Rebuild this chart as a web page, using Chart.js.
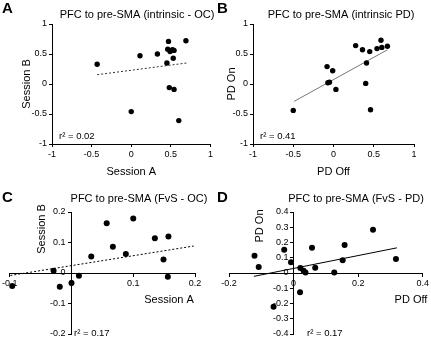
<!DOCTYPE html>
<html>
<head>
<meta charset="utf-8">
<script src="https://cdn.jsdelivr.net/npm/chart.js@4.4.0/dist/chart.umd.min.js"></script>
<style>
  html, body { margin: 0; padding: 0; background: #fff; }
  #fig { position: relative; width: 431px; height: 338px; overflow: hidden; }
  #fig canvas { position: absolute; }
</style>
</head>
<body>
<div id="fig">
  <canvas id="cA" width="215" height="183" style="left:0;top:0"></canvas>
  <canvas id="cB" width="216" height="183" style="left:215px;top:0"></canvas>
  <canvas id="cC" width="215" height="158" style="left:0;top:180px"></canvas>
  <canvas id="cD" width="216" height="158" style="left:215px;top:180px"></canvas>
</div>
<script>
// --- data ---
// A: intrinsic, older controls (session A vs session B)
const aSessionA = [-0.43, 0.11, 0.33, 0.47, 0.46, 0.49, 0.52, 0.54, 0.53, 0.45, 0.69, 0.0, 0.48, 0.54, 0.60];
const aSessionB = [0.33, 0.47, 0.50, 0.71, 0.58, 0.54, 0.57, 0.56, 0.43, 0.35, 0.72, -0.46, -0.06, -0.09, -0.61];
const aTrend = [{ x: -0.43, y: 0.155 }, { x: 0.70, y: 0.35 }];

// B: intrinsic, PD (off vs on)
const bOff = [-0.50, -0.08, -0.01, -0.07, -0.05, 0.03, 0.275, 0.36, 0.45, 0.41, 0.40, 0.46, 0.54, 0.59, 0.60, 0.67];
const bOn = [-0.44, 0.29, 0.22, 0.02, 0.03, -0.09, 0.64, 0.57, 0.54, 0.35, 0.01, -0.43, 0.59, 0.73, 0.61, 0.63];
const bTrend = [{ x: -0.49, y: -0.29 }, { x: 0.67, y: 0.57 }];

// C: FvS, older controls
const cSessionA = [-0.096, -0.029, -0.019, 0.0, 0.012, 0.032, 0.057, 0.067, 0.088, 0.100, 0.135, 0.157, 0.149, 0.156];
const cSessionB = [-0.043, 0.007, -0.045, -0.033, -0.009, 0.054, 0.163, 0.086, 0.062, 0.179, 0.114, 0.120, 0.044, -0.012];
const cTrend = [{ x: -0.099, y: -0.008 }, { x: 0.198, y: 0.0885 }];

// D: FvS, PD
const dOff = [-0.121, -0.108, -0.029, -0.008, 0.021, 0.031, 0.037, 0.057, 0.067, 0.126, 0.152, 0.158, 0.246, 0.317, 0.020, -0.062];
const dOn = [0.113, 0.039, 0.152, 0.070, 0.033, 0.015, 0.004, 0.165, 0.035, 0.004, 0.083, 0.183, 0.283, 0.091, -0.126, -0.222];
const dTrend = [{ x: -0.123, y: -0.022 }, { x: 0.32, y: 0.165 }];

const r2 = { A: "0.02", B: "0.41", C: "0.17", D: "0.17" };

Chart.defaults.font.family = "'Liberation Sans', Arial, sans-serif";
Chart.defaults.color = "#000";

const toPoints = (xs, ys) => xs.map((x, i) => ({ x: x, y: ys[i] }));
const tickFmt = (v) => String(Math.round(v * 10) / 10);

const F_TITLE = "11px 'Liberation Sans', Arial, sans-serif";
const F_LETTER = "bold 15px 'Liberation Sans', Arial, sans-serif";
const F_R2 = "9.5px 'Liberation Sans', Arial, sans-serif";
const F_AXIS = "11px 'Liberation Sans', Arial, sans-serif";
const F_TICK = "9px 'Liberation Sans', Arial, sans-serif";

// free text (panel letter, title, r2, centred-axis titles)
// plus y tick labels for the axes that cross at the origin
const panelText = {
  id: "panelText",
  afterDraw(chart, args, opts) {
    const ctx = chart.ctx;
    (opts.items || []).forEach((t) => {
      ctx.save();
      ctx.font = t.font;
      ctx.fillStyle = "#000";
      ctx.textAlign = t.align || "left";
      ctx.textBaseline = t.baseline || "alphabetic";
      ctx.translate(t.x, t.y);
      if (t.rotate) ctx.rotate(t.rotate);
      ctx.fillText(t.text, 0, 0);
      ctx.restore();
    });
    if (opts.yTickGap) {
      const ys = chart.scales.y;
      const x0 = chart.scales.x.getPixelForValue(0) - opts.yTickGap;
      ctx.save();
      ctx.font = F_TICK;
      ctx.fillStyle = "#000";
      ctx.textAlign = "right";
      ctx.textBaseline = "middle";
      ys.ticks.forEach((t) => {
        ctx.fillText(tickFmt(t.value), x0, ys.getPixelForValue(t.value));
      });
      ctx.restore();
    }
  },
};

function dataSets(pts, trend, radius, lineColor, dash) {
  return [
    {
      data: pts,
      pointRadius: radius,
      pointHoverRadius: radius,
      pointBackgroundColor: "#000",
      pointBorderWidth: 0,
      clip: false,
    },
    {
      data: trend,
      showLine: true,
      pointRadius: 0,
      borderColor: lineColor,
      borderWidth: 1,
      borderDash: dash,
      clip: false,
    },
  ];
}

function edgeAxis(min, max, step, titleText, fit, titlePad) {
  return {
    type: "linear",
    min: min,
    max: max,
    afterFit: fit,
    ticks: { stepSize: step, font: { size: 9 }, padding: 2, callback: tickFmt },
    grid: { drawOnChartArea: false, drawTicks: true, tickLength: 3, tickColor: "#000" },
    border: { display: true, color: "#000", width: 1 },
    title: { display: true, text: titleText, font: { size: 11 }, padding: titlePad },
  };
}

function centreAxis(pos, min, max, step, showLabels) {
  return {
    type: "linear",
    position: pos,
    min: min,
    max: max,
    ticks: { stepSize: step, font: { size: 9 }, padding: 2, callback: tickFmt, display: showLabels },
    grid: { drawOnChartArea: false, drawTicks: true, tickLength: 3, tickColor: "#000" },
    border: { display: true, color: "#000", width: 1 },
  };
}

function baseOptions(padding, scales, items, yTickGap) {
  return {
    responsive: false,
    animation: false,
    layout: { padding: padding, autoPadding: false },
    plugins: {
      legend: { display: false },
      tooltip: { enabled: false },
      panelText: { items: items, yTickGap: yTickGap || 0 },
    },
    scales: scales,
  };
}

// A
new Chart(document.getElementById("cA"), {
  type: "scatter",
  data: { datasets: dataSets(toPoints(aSessionA, aSessionB), aTrend, 2.7, "#333", [2, 2]) },
  options: baseOptions(
    { top: 24, right: 3, left: 0, bottom: 0 },
    {
      x: edgeAxis(-1, 1, 0.5, "Session A", (s) => { s.height = 39; }, { top: 0, bottom: 4 }),
      y: edgeAxis(-1, 1, 0.5, "Session B", (s) => { s.width = 52; }, { top: 20, bottom: 0 }),
    },
    [
      { text: "A", x: 2, y: 13, font: F_LETTER },
      { text: "PFC to pre-SMA (intrinsic - OC)", x: 137, y: 18, font: F_TITLE, align: "center" },
      { text: "r\u00b2 = " + r2.A, x: 59, y: 139, font: F_R2 },
    ]
  ),
  plugins: [panelText],
});

// B
new Chart(document.getElementById("cB"), {
  type: "scatter",
  data: { datasets: dataSets(toPoints(bOff, bOn), bTrend, 2.7, "#777", []) },
  options: baseOptions(
    { top: 24, right: 17, left: 0, bottom: 0 },
    {
      x: edgeAxis(-1, 1, 0.5, "PD Off", (s) => { s.height = 39; }, { top: 0, bottom: 4 }),
      y: edgeAxis(-1, 1, 0.5, "PD On", (s) => { s.width = 38; }, { top: 10, bottom: 0 }),
    },
    [
      { text: "B", x: 2, y: 13, font: F_LETTER },
      { text: "PFC to pre-SMA (intrinsic PD)", x: 126, y: 18, font: F_TITLE, align: "center" },
      { text: "r\u00b2 = " + r2.B, x: 45, y: 139, font: F_R2 },
    ]
  ),
  plugins: [panelText],
});

// C
new Chart(document.getElementById("cC"), {
  type: "scatter",
  data: { datasets: dataSets(toPoints(cSessionA, cSessionB), cTrend, 3, "#000", [2, 2]) },
  options: baseOptions(
    { top: 32, right: 20, left: 8, bottom: 4 },
    {
      x: centreAxis({ y: 0 }, -0.1, 0.2, 0.1, true),
      y: centreAxis({ x: 0 }, -0.2, 0.2, 0.1, false),
    },
    [
      { text: "C", x: 2, y: 22, font: F_LETTER },
      { text: "PFC to pre-SMA (FvS - OC)", x: 139, y: 22, font: F_TITLE, align: "center" },
      { text: "r\u00b2 = " + r2.C, x: 74, y: 156, font: F_R2 },
      { text: "Session A", x: 169, y: 123, font: F_AXIS, align: "center" },
      { text: "Session B", x: 42, y: 49, font: F_AXIS, align: "center", baseline: "middle", rotate: -Math.PI / 2 },
    ],
    6
  ),
  plugins: [panelText],
});

// D
new Chart(document.getElementById("cD"), {
  type: "scatter",
  data: { datasets: dataSets(toPoints(dOff, dOn), dTrend, 3, "#000", []) },
  options: baseOptions(
    { top: 32, right: 7, left: 14, bottom: 4 },
    {
      x: centreAxis({ y: 0 }, -0.2, 0.4, 0.2, true),
      y: centreAxis({ x: 0 }, -0.4, 0.4, 0.1, false),
    },
    [
      { text: "D", x: 2, y: 22, font: F_LETTER },
      { text: "PFC to pre-SMA (FvS - PD)", x: 141, y: 22, font: F_TITLE, align: "center" },
      { text: "r\u00b2 = " + r2.D, x: 92, y: 156, font: F_R2 },
      { text: "PD Off", x: 196, y: 123, font: F_AXIS, align: "center" },
      { text: "PD On", x: 45, y: 46, font: F_AXIS, align: "center", baseline: "middle", rotate: -Math.PI / 2 },
    ],
    5
  ),
  plugins: [panelText],
});
</script>
</body>
</html>
